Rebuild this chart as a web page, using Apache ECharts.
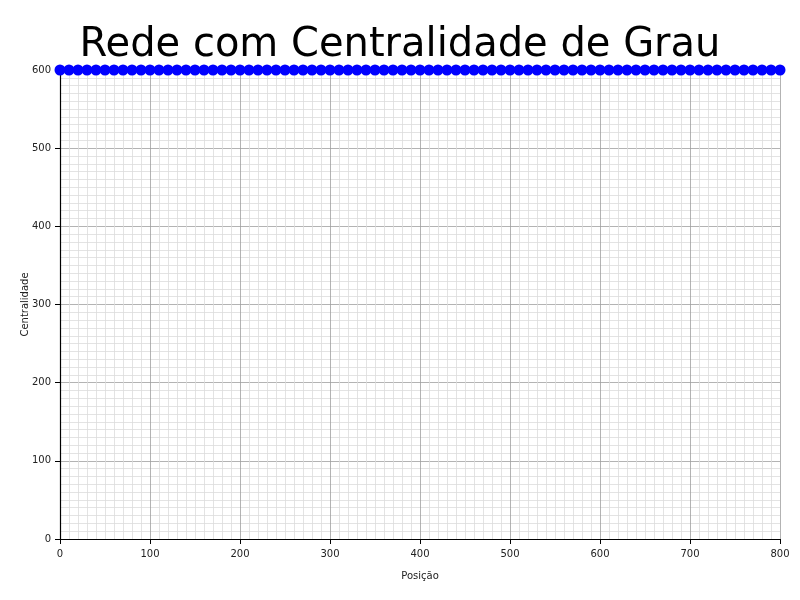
<!DOCTYPE html>
<html>
<head>
<meta charset="utf-8">
<script src="https://cdn.jsdelivr.net/npm/echarts@6/dist/echarts.min.js"></script>
<style>html,body{margin:0;padding:0;background:#fff}#c{width:800px;height:600px}</style>
</head>
<body>
<div id="c"></div>
<script>
const positions = [0,10,20,30,40,50,60,70,80,90,100,110,120,130,140,150,160,170,180,190,200,210,220,230,240,250,260,270,280,290,300,310,320,330,340,350,360,370,380,390,400,410,420,430,440,450,460,470,480,490,500,510,520,530,540,550,560,570,580,590,600,610,620,630,640,650,660,670,680,690,700,710,720,730,740,750,760,770,780,790,800];
const centrality = [600,600,600,600,600,600,600,600,600,600,600,600,600,600,600,600,600,600,600,600,600,600,600,600,600,600,600,600,600,600,600,600,600,600,600,600,600,600,600,600,600,600,600,600,600,600,600,600,600,600,600,600,600,600,600,600,600,600,600,600,600,600,600,600,600,600,600,600,600,600,600,600,600,600,600,600,600,600,600,600,600];
const titleText = "Rede com Centralidade de Grau";
const xName = "Posição";
const yName = "Centralidade";

const chart = echarts.init(document.getElementById('c'), null, {renderer: 'canvas'});
const font = 'DejaVu Sans';
const axisCommon = {
  axisLine: {show: true, onZero: false, lineStyle: {color: '#000', width: 1.2}},
  axisTick: {show: true, length: 5, lineStyle: {color: '#000'}},
  axisLabel: {color: '#222', fontFamily: font, fontSize: 10},
  splitLine: {show: true, lineStyle: {color: '#a0a0a0', width: 0.8}},
  minorTick: {show: false, splitNumber: 10},
  minorSplitLine: {show: true, lineStyle: {color: '#dcdcdc', width: 0.8}},
  nameTextStyle: {color: '#222', fontFamily: font, fontSize: 10},
  nameMoveOverlap: false
};
chart.setOption({
  animation: false,
  title: {
    text: titleText, left: 'center', top: 21,
    textStyle: {fontFamily: font, fontSize: 40, fontWeight: 'normal', color: '#000'}
  },
  grid: {left: 60, right: 20, top: 70, bottom: 61},
  xAxis: Object.assign({}, axisCommon, {
    type: 'value', min: 0, max: 800, interval: 100,
    name: xName, nameLocation: 'middle', nameGap: 32,
    axisLabel: Object.assign({}, axisCommon.axisLabel, {margin: 10})
  }),
  yAxis: Object.assign({}, axisCommon, {
    type: 'value', min: 0, max: 600, interval: 100,
    name: yName, nameLocation: 'middle', nameGap: 30,
    axisLabel: Object.assign({}, axisCommon.axisLabel, {margin: 9})
  }),
  series: [{
    type: 'line',
    data: positions.map((p, i) => [p, centrality[i]]),
    symbol: 'circle', symbolSize: 11,
    itemStyle: {color: '#0000ff'},
    lineStyle: {color: '#0000ff', width: 2},
    clip: false
  }]
});
</script>
</body>
</html>
